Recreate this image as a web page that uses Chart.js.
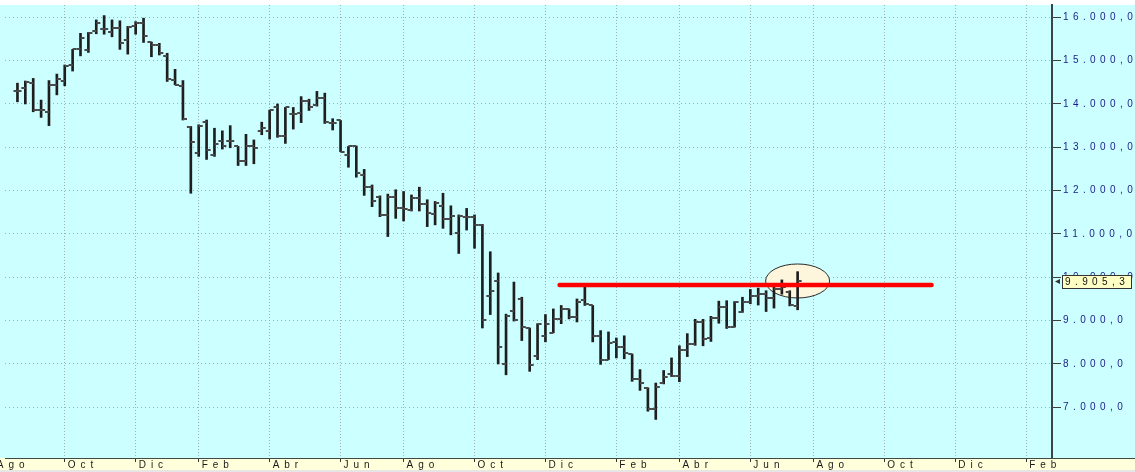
<!DOCTYPE html>
<html><head><meta charset="utf-8">
<script src="https://cdn.jsdelivr.net/npm/chart.js@4.4.1/dist/chart.umd.min.js"></script>
<style>html,body{margin:0;padding:0;background:#fff;overflow:hidden}canvas{display:block}</style>
</head><body>
<canvas id="c" width="1135" height="472"></canvas>
<script>
// Weekly bars, week index 0 = first bar (late Aug 2007)
const open = [14310,14380,14480,13860,13810,14440,14520,14900,15260,15250,
15690,15720,15650,15760,15480,15790,15860,15420,15350,15110,
14550,14420,13480,12860,13590,12820,13150,13150,13020,12690,
13020,13380,13380,13920,13250,13770,13790,14080,13970,14130,
13570,13620,12820,13020,12360,12090,11860,11440,11860,11590,
11550,11820,11690,11460,11650,11340,11030,11400,11400,11200,
9580,9910,7990,9220,9490,8830,8190,8650,8720,9030,
9260,9080,9480,9350,8640,8100,8500,8390,8230,7660,
7450,6960,7560,7780,7730,8330,8470,8980,8600,9060,
9310,8860,9200,9440,9560,9610,9520,9720,9650,9340];
const high = [14480,14530,14590,14090,14540,14690,14900,15260,15630,15650,
15940,16040,15940,15920,15790,15900,15980,15430,15400,15170,
14800,14540,13480,13520,13630,13440,13380,13500,13020,13300,
13170,13580,13860,14000,13920,13920,14170,14110,14290,14250,
13660,13620,13020,13030,12490,12130,11880,11920,12020,11980,
11900,12080,11790,11750,11940,11650,11440,11590,11440,11220,
10590,10100,9150,9890,9540,8830,8930,9140,9270,9350,
9270,9500,9820,9350,8770,8740,8600,8650,8230,7870,
7450,7560,7850,8140,8420,8700,9030,9030,9100,9450,
9460,9440,9540,9720,9750,9690,9790,9940,9690,10130];
const low = [14050,14000,13820,13690,13500,14210,14420,14760,15110,15190,
15620,15610,15550,15260,15150,15610,15420,15090,15130,14520,
14440,13630,11940,12790,12720,12790,12960,12990,12580,12580,
12620,13290,13190,13230,13090,13420,13570,13850,13950,13550,
13400,12900,12540,12310,11890,11630,11400,10940,11360,11300,
11530,11530,11170,11210,11130,10980,10550,11090,10670,8830,
9140,8000,7750,8990,8540,7830,8100,8510,8720,8930,
9040,8970,9350,8510,7990,8100,8140,8120,7600,7390,
6910,6720,7540,7710,7590,8170,8430,8420,8520,8940,
8820,8850,9190,9390,9360,9210,9290,9610,9340,9250];
const close = [14300,14510,13860,13860,14440,14570,14880,15260,15520,15630,
15860,15720,15760,15400,15770,15860,15580,15350,15170,14580,
14440,13650,13130,13500,12940,13080,13020,13150,12690,13020,
12980,13450,13860,13250,13920,13770,14080,13940,14130,13580,
13550,12900,13020,12400,12090,11770,11440,11860,11590,11570,
11820,11690,11480,11710,11340,11420,11420,11400,11200,9020,
9680,8390,9100,9020,8850,7970,8930,8930,9030,9260,
9080,9430,9390,8640,8090,8480,8390,8260,7660,7570,
6960,7480,7690,7730,8330,8470,8980,8580,9060,9310,
8860,9420,9440,9560,9610,9520,9720,9780,9360,9905];

const monthTickWeeks  = [-3, 6, 15, 23, 32, 41, 49, 58, 67, 76, 84, 93, 101, 110, 119, 128];
const monthTickLabels = ['Ago','Oct','Dic','Feb','Abr','Jun','Ago','Oct','Dic','Feb','Abr','Jun','Ago','Oct','Dic','Feb'];
const yTickValues = [7000, 8000, 9000, 10000, 11000, 12000, 13000, 14000, 15000, 16000];

const resistanceLevel = 9820;
const resistanceWeeks = [68.8, 116.0];
const highlightWeek = 99;
const highlightValue = 9915;
const lastPrice = 9905.3;

const X_MIN = -1.58, X_MAX = 131.28, Y_MIN = 5830, Y_MAX = 16284;

function fmtNum(v, dec) {
  const neg = v < 0; v = Math.abs(v);
  const fixed = v.toFixed(dec);
  let [ip, fp] = fixed.split('.');
  ip = ip.replace(/\B(?=(\d{3})+(?!\d))/g, '.');
  return (neg ? '-' : '') + ip + ',' + fp;
}

function tickImage(side) {
  const c = document.createElement('canvas');
  c.width = 10; c.height = 2;
  const g = c.getContext('2d');
  g.fillStyle = '#4a4a4a';
  if (side === 'left') g.fillRect(1, 0, 4, 2); else g.fillRect(5, 0, 4, 2);
  return c;
}

const idx = open.map((_, i) => i);
const rangeData = idx.map(i => ({x: i, y: [low[i], high[i]]}));
const openData = idx.map(i => ({x: i, y: open[i]}));
const closeData = idx.map(i => ({x: i, y: close[i]}));
const resistanceData = resistanceWeeks.map(w => ({x: w, y: resistanceLevel}));

const bgPlugin = {
  id: 'bg',
  beforeDraw(chart) {
    const ctx = chart.ctx, W = chart.width, H = chart.height, a = chart.chartArea;
    ctx.save();
    ctx.fillStyle = '#ffffff'; ctx.fillRect(0, 0, W, H);
    ctx.fillStyle = '#ccffff'; ctx.fillRect(0, a.top, W, a.bottom - a.top);
    ctx.fillStyle = '#ffffdc'; ctx.fillRect(0, a.bottom, W, H - a.bottom - 2);
    ctx.fillStyle = '#e6e6e6'; ctx.fillRect(0, H - 2, W, 2);
    ctx.restore();
    const pairs = [[chart.scales.x, '5px'], [chart.scales.y, '4.4px']];
    pairs.forEach(([s, ls]) => {
      if (s._lsPatched) return;
      const orig = Object.getPrototypeOf(s).drawLabels;
      s.drawLabels = function(ca) { const c = this.ctx; c.save(); c.letterSpacing = ls; orig.call(this, ca); c.restore(); };
      s._lsPatched = true;
    });
  },
  beforeDatasetsDraw(chart) {
    const ctx = chart.ctx, xs = chart.scales.x, ys = chart.scales.y, a = chart.chartArea;
    ctx.save();
    ctx.strokeStyle = '#404a44'; ctx.lineWidth = 1;
    ctx.beginPath(); ctx.moveTo(a.right, Math.round(a.bottom) + 0.5); ctx.lineTo(chart.width, Math.round(a.bottom) + 0.5); ctx.stroke();
    const cx = xs.getPixelForValue(highlightWeek), cy = ys.getPixelForValue(highlightValue);
    ctx.beginPath(); ctx.ellipse(cx, cy, 32, 17, 0, 0, Math.PI * 2);
    ctx.fillStyle = '#fdf6dc'; ctx.fill();
    ctx.strokeStyle = '#2a2a2a'; ctx.lineWidth = 1; ctx.stroke();
    ctx.restore();
  },
  afterDraw(chart) {
    const ctx = chart.ctx, ys = chart.scales.y, a = chart.chartArea;
    const y = ys.getPixelForValue(lastPrice);
    ctx.save();
    ctx.fillStyle = '#ffffc4';
    ctx.fillRect(a.right + 10, y - 6.5, 69, 13);
    ctx.strokeStyle = '#333'; ctx.lineWidth = 1;
    ctx.strokeRect(Math.round(a.right + 10) + 0.5, Math.round(y - 6.5) + 0.5, 69, 13);
    ctx.fillStyle = '#333';
    ctx.beginPath(); ctx.moveTo(a.right + 3, y); ctx.lineTo(a.right + 8, y - 2.5); ctx.lineTo(a.right + 8, y + 2.5); ctx.closePath(); ctx.fill();
    ctx.letterSpacing = '4.4px';
    ctx.font = '10px "Liberation Sans", Arial, sans-serif';
    ctx.fillStyle = '#111';
    ctx.textBaseline = 'middle'; ctx.textAlign = 'left';
    ctx.fillText(fmtNum(lastPrice, 1), a.right + 13, y + 0.5);
    ctx.restore();
  }
};

new Chart(document.getElementById('c'), {
  type: 'bar',
  data: {
    datasets: [
      { type: 'line', label: 'Resistencia', data: resistanceData, borderColor: '#ff0000', borderWidth: 4.5,
        borderCapStyle: 'round', pointRadius: 0, fill: false, order: 0 },
      { type: 'scatter', label: 'Apertura', data: openData, pointStyle: tickImage('left'), pointRadius: 3, order: 1 },
      { type: 'scatter', label: 'Cierre', data: closeData, pointStyle: tickImage('right'), pointRadius: 3, order: 1 },
      { type: 'bar', label: 'Rango', data: rangeData, backgroundColor: '#1e1e1e', borderWidth: 0,
        barThickness: 2, order: 2 }
    ]
  },
  options: {
    responsive: false,
    animation: false,
    devicePixelRatio: 1,
    events: [],
    layout: { padding: { top: 5, left: 0, right: 0, bottom: 0 } },
    plugins: { legend: { display: false }, tooltip: { enabled: false } },
    scales: {
      x: {
        type: 'linear', position: 'bottom', min: X_MIN, max: X_MAX, offset: false,
        afterBuildTicks: s => { s.ticks = monthTickWeeks.map(v => ({value: v})); },
        afterFit: s => { s.height = 14; s.paddingLeft = 0; s.paddingRight = 0; },
        grid: { offset: false, color: '#9fb0b0', lineWidth: 1, drawTicks: true, tickLength: 4, tickColor: '#333', tickWidth: 1 },
        border: { display: true, color: '#404a44', width: 1, dash: [1, 2] },
        ticks: {
          autoSkip: false, maxRotation: 0, minRotation: 0, align: 'start', labelOffset: 3, padding: -2,
          color: '#1a1a1a', font: { family: '"Liberation Sans", Arial, sans-serif', size: 10, lineHeight: 1 },
          callback: (v) => { const k = monthTickWeeks.indexOf(v); return k >= 0 ? monthTickLabels[k] : ''; }
        }
      },
      y: {
        type: 'linear', position: 'right', min: Y_MIN, max: Y_MAX,
        afterBuildTicks: s => { s.ticks = yTickValues.map(v => ({value: v})); },
        afterFit: s => { s.width = 83; s.paddingTop = 0; s.paddingBottom = 0; },
        grid: { color: '#9fb0b0', lineWidth: 1, drawTicks: true, tickLength: 9, tickColor: '#404040', tickWidth: 1 },
        border: { display: true, color: '#3a4646', width: 2, dash: [1, 3] },
        ticks: {
          padding: 2, color: '#1c1c8a',
          font: { family: '"Liberation Sans", Arial, sans-serif', size: 10 },
          callback: (v) => fmtNum(v, 1)
        }
      }
    }
  },
  plugins: [bgPlugin]
});
</script>
</body></html>
